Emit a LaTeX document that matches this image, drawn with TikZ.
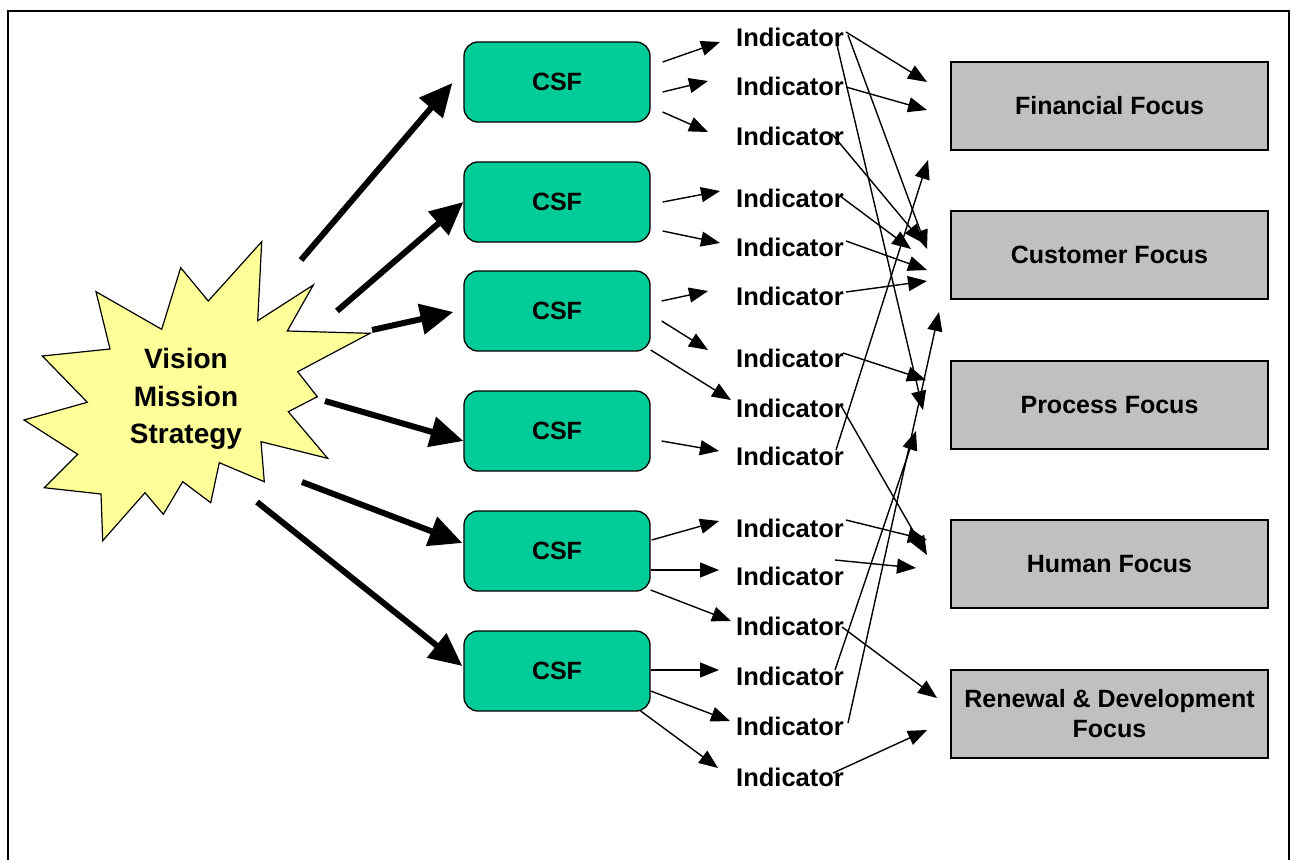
\documentclass[tikz,border=0pt]{standalone}
\usepackage{fontspec}
\setmainfont{Liberation Sans}
\usetikzlibrary{arrows.meta,calc}
\definecolor{starfill}{HTML}{FFFF99}
\definecolor{csfgreen}{HTML}{00CC99}
\definecolor{focusgray}{HTML}{C0C0C0}
\begin{document}
\begin{tikzpicture}[x=1pt,y=-1pt,
  csf/.style={draw=black, line width=1.3pt, fill=csfgreen, rounded corners=14pt,
    minimum width=186pt, minimum height=80pt, inner sep=0pt,
    font=\fontsize{25}{30}\selectfont\bfseries},
  focus/.style={draw=black, line width=2pt, fill=focusgray,
    minimum width=317pt, minimum height=88pt, inner sep=0pt, align=center,
    font=\fontsize{25}{30}\selectfont\bfseries},
  ind/.style={anchor=base west, inner sep=0pt, font=\fontsize{25.5}{30}\selectfont\bfseries},
  bigarrow/.style={line width=6pt, -{Triangle[length=33pt,width=30pt]}},
  thinarrow/.style={line width=1.4pt, -{Triangle[length=19pt,width=15pt]}},
]
\useasboundingbox (0,0) rectangle (1294,860);
\fill[white] (0,0) rectangle (1294,860);

% outer frame (open at the bottom)
\draw[line width=2pt] (7.5,860) -- (7.5,11) -- (1289,11) -- (1289,860);

% starburst
\draw[fill=starfill, line width=1.2pt, line join=miter]
  (261.7,241.7) -- (257.7,320.7) -- (313.3,285) -- (287.3,331) -- (370,333.3)
  -- (297.7,371.7) -- (317.3,396.7) -- (288.3,411.7) -- (327.7,458.3)
  -- (261,441.7) -- (264.3,481.7) -- (219.3,462.7) -- (210.7,502.7)
  -- (182.7,481.7) -- (163.3,514.3) -- (145,492.7) -- (102.7,540.7)
  -- (101,494) -- (44.3,487.7) -- (77.7,454.3) -- (24,420) -- (87.3,402.3)
  -- (42.3,356) -- (110,349) -- (96,291.7) -- (161.7,329.3) -- (180.7,267.7)
  -- (208.3,301) -- cycle;
\node[align=center, inner sep=0pt, font=\fontsize{28}{37.5}\selectfont\bfseries]
  (vms) at (186,399) {Vision\\Mission\\Strategy};

% critical success factors
\node[csf] (c1) at (557,82) {CSF};
\node[csf] (c2) at (557,202) {CSF};
\node[csf] (c3) at (557,311) {CSF};
\node[csf] (c4) at (557,431) {CSF};
\node[csf] (c5) at (557,551) {CSF};
\node[csf] (c6) at (557,671) {CSF};

% focus areas
\node[focus] (fin) at (1109.5,105.5) {Financial Focus};
\node[focus] (cus) at (1109.5,255) {Customer Focus};
\node[focus] (pro) at (1109.5,405) {Process Focus};
\node[focus] (hum) at (1109.5,564) {Human Focus};
\node[focus] (ren) at (1109.5,714) {Renewal \& Development\\Focus};

% indicators
\node[ind] (i1) at (736,46) {Indicator};
\node[ind] (i2) at (736,95) {Indicator};
\node[ind] (i3) at (736,145) {Indicator};
\node[ind] (i4) at (736,207) {Indicator};
\node[ind] (i5) at (736,256) {Indicator};
\node[ind] (i6) at (736,305) {Indicator};
\node[ind] (i7) at (736,367) {Indicator};
\node[ind] (i8) at (736,417) {Indicator};
\node[ind] (i9) at (736,465) {Indicator};
\node[ind] (i10) at (736,537) {Indicator};
\node[ind] (i11) at (736,585) {Indicator};
\node[ind] (i12) at (736,635) {Indicator};
\node[ind] (i13) at (736,685) {Indicator};
\node[ind] (i14) at (736,735) {Indicator};
\node[ind] (i15) at (736,786) {Indicator};

% vision -> CSF
\draw[bigarrow] ($(vms)+(115,-139)$) -- ($(c1.west)+(-11,1)$);
\draw[bigarrow] ($(vms)+(151,-88)$) -- ($(c2.west)+(0,0)$);
\draw[bigarrow] ($(vms)+(186,-69)$) -- ($(c3.west)+(-10,1)$);
\draw[bigarrow] ($(vms)+(139,2)$) -- ($(c4.west)+(0,10)$);
\draw[bigarrow] ($(vms)+(116,83)$) -- ($(c5.west)+(-1,-8)$);
\draw[bigarrow] ($(vms)+(71,103)$) -- ($(c6.west)+(-1,-5)$);

% CSF -> indicators
\draw[thinarrow] ($(c1.east)+(12,-20)$) -- ($(i1.base west)+(-16,-4)$);
\draw[thinarrow] ($(c1.east)+(12,10)$) -- ($(i2.base west)+(-28,-14)$);
\draw[thinarrow] ($(c1.east)+(12,30)$) -- ($(i3.base west)+(-28,-13)$);
\draw[thinarrow] ($(c2.east)+(12,0)$) -- ($(i4.base west)+(-16,-16)$);
\draw[thinarrow] ($(c2.east)+(12,29)$) -- ($(i5.base west)+(-16,-13)$);
\draw[thinarrow] ($(c3.east)+(11,-10)$) -- ($(i6.base west)+(-28,-14)$);
\draw[thinarrow] ($(c3.east)+(11,10)$) -- ($(i7.base west)+(-28,-17)$);
\draw[thinarrow] ($(c3.east)+(0,39)$) -- ($(i8.base west)+(-5,-17)$);
\draw[thinarrow] ($(c4.east)+(11,10)$) -- ($(i9.base west)+(-17,-14)$);
\draw[thinarrow] ($(c5.east)+(1,-11)$) -- ($(i10.base west)+(-17,-16)$);
\draw[thinarrow] ($(c5.east)+(0,19)$) -- ($(i11.base west)+(-17,-15)$);
\draw[thinarrow] ($(c5.east)+(0,39)$) -- ($(i12.base west)+(-5,-14)$);
\draw[thinarrow] ($(c6.east)+(0,-1)$) -- ($(i13.base west)+(-17,-15)$);
\draw[thinarrow] ($(c6.east)+(0,20)$) -- ($(i14.base west)+(-6,-14)$);
\draw[thinarrow] ($(c6.east)+(-10,40)$) -- ($(i15.base west)+(-18,-18)$);

% indicators -> focus areas
\draw[thinarrow] ($(i1.base west)+(110,-14)$) -- ($(fin.west)+(-23,-23.5)$);
\draw[thinarrow] ($(i1.base west)+(112,-11)$) -- ($(cus.west)+(-23,-6)$);
\draw[thinarrow] ($(i1.base west)+(101,-1)$) -- ($(pro.west)+(-27,5)$);
\draw[thinarrow] ($(i2.base west)+(110,-8)$) -- ($(fin.west)+(-23,4.5)$);
\draw[thinarrow] ($(i3.base west)+(96,-11)$) -- ($(cus.west)+(-27,-12)$);
\draw[thinarrow] ($(i4.base west)+(104,-11)$) -- ($(cus.west)+(-39,-6)$);
\draw[thinarrow] ($(i5.base west)+(110,-15)$) -- ($(cus.west)+(-23,15)$);
\draw[thinarrow] ($(i6.base west)+(110,-13)$) -- ($(cus.west)+(-23,26)$);
\draw[thinarrow] ($(i7.base west)+(107,-14)$) -- ($(pro.west)+(-24,-25)$);
\draw[thinarrow] ($(i8.base west)+(104,-13)$) -- ($(hum.west)+(-23,-9)$);
\draw[thinarrow] ($(i9.base west)+(100,-15)$) -- ($(fin.west)+(-22,54.5)$);
\draw[thinarrow] ($(i10.base west)+(110,-17)$) -- ($(hum.west)+(-23,-24)$);
\draw[thinarrow] ($(i11.base west)+(99,-25)$) -- ($(hum.west)+(-34,4)$);
\draw[thinarrow] ($(i12.base west)+(106,-8)$) -- ($(ren.west)+(-13,-16)$);
\draw[thinarrow] ($(i13.base west)+(99,-15)$) -- ($(pro.west)+(-34,26)$);
\draw[thinarrow] ($(i14.base west)+(112,-12)$) -- ($(cus.west)+(-11,57)$);
\draw[thinarrow] ($(i15.base west)+(97,-13)$) -- ($(ren.west)+(-23,16)$);
\end{tikzpicture}
\end{document}
